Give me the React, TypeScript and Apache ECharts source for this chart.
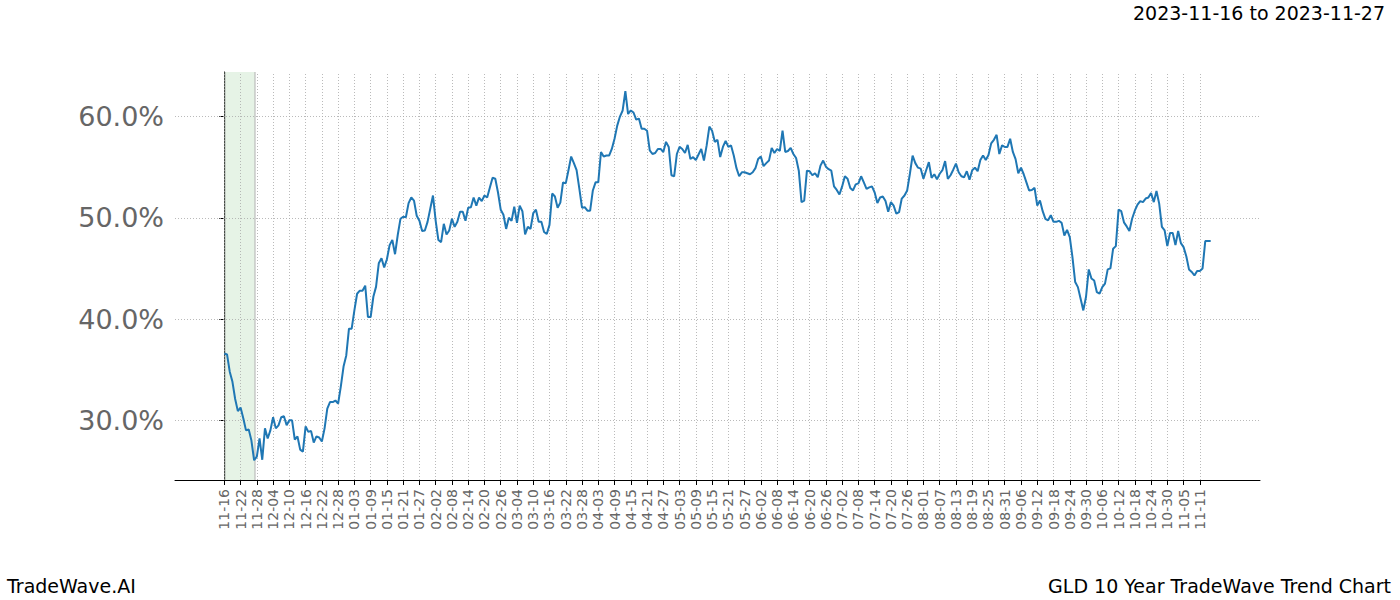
import React, { useEffect, useRef } from "react";
import * as echarts from "echarts";

// X-axis tick labels (one every 6 days, starting at day 0 = 2023-11-16)
const tickLabels: string[] = [
  "11-16", "11-22", "11-28", "12-04", "12-10", "12-16", "12-22", "12-28",
  "01-03", "01-09", "01-15", "01-21", "01-27", "02-02", "02-08", "02-14",
  "02-20", "02-26", "03-04", "03-10", "03-16", "03-22", "03-28", "04-03",
  "04-09", "04-15", "04-21", "04-27", "05-03", "05-09", "05-15", "05-21",
  "05-27", "06-02", "06-08", "06-14", "06-20", "06-26", "07-02", "07-08",
  "07-14", "07-20", "07-26", "08-01", "08-07", "08-13", "08-19", "08-25",
  "08-31", "09-06", "09-12", "09-18", "09-24", "09-30", "10-06", "10-12",
  "10-18", "10-24", "10-30", "11-05", "11-11",
];
const tickStepDays = 6;

// Y-axis tick values (percent)
const yTicks: number[] = [30, 40, 50, 60];

// Daily trend values (percent), day 0 = 2023-11-16
const trendValues: number[] = [
  36.6, 36.5, 34.8, 33.8, 32.1, 30.9, 31.25, 30.2, 29.0, 29.1,
  28.0, 26.05, 26.4, 28.2, 26.1, 29.2, 28.2, 29.0, 30.3, 29.2,
  29.5, 30.3, 30.4, 29.5, 30.0, 30.0, 28.1, 28.4, 27.1, 26.9,
  29.4, 28.85, 28.95, 27.8, 28.4, 28.3, 27.9, 29.2, 31.15, 31.8,
  31.8, 31.95, 31.65, 33.35, 35.3, 36.4, 39.05, 39.05, 40.85, 42.5,
  42.8, 42.8, 43.3, 40.2, 40.2, 42.2, 43.2, 45.5, 46.0, 45.1,
  45.9, 47.3, 47.8, 46.4, 48.3, 49.9, 50.1, 50.05, 51.45, 52.0,
  51.7, 50.2, 49.7, 48.7, 48.75, 49.6, 50.9, 52.2, 49.7, 47.8,
  47.6, 49.4, 48.35, 48.75, 49.9, 49.1, 49.6, 50.6, 50.6, 49.7,
  51.0, 51.05, 52.0, 51.2, 52.0, 51.65, 52.2, 52.0, 53.0, 53.95,
  53.85, 52.5, 50.8, 50.3, 48.9, 50.0, 49.7, 51.1, 49.5, 51.2,
  50.65, 48.35, 49.1, 48.9, 50.45, 50.8, 49.6, 49.6, 48.6, 48.4,
  49.3, 52.4, 52.1, 51.0, 51.5, 53.5, 53.4, 54.7, 56.05, 55.4,
  54.7, 52.9, 51.0, 51.05, 50.7, 50.7, 52.7, 53.5, 53.5, 56.5,
  56.05, 56.15, 56.15, 56.8, 57.8, 59.1, 60.0, 60.6, 62.5, 60.25,
  60.6, 60.4, 59.7, 59.8, 58.8, 58.8, 58.6, 56.65, 56.3, 56.4,
  56.8, 56.8, 56.5, 57.5, 57.0, 54.2, 54.1, 56.3, 57.0, 56.8,
  56.4, 57.2, 55.8, 56.0, 55.7, 56.25, 56.8, 55.65, 57.15, 59.0,
  58.6, 57.5, 57.7, 56.0, 57.0, 57.6, 57.0, 57.15, 56.15, 54.9,
  54.1, 54.5, 54.5, 54.4, 54.3, 54.5, 54.9, 55.8, 56.05, 55.1,
  55.4, 55.65, 56.9, 56.4, 56.8, 56.6, 58.6, 56.5, 56.6, 56.9,
  56.3, 55.9, 54.65, 51.55, 51.7, 54.65, 54.6, 54.2, 54.4, 54.0,
  55.15, 55.65, 55.05, 54.8, 54.65, 53.1, 52.75, 52.3, 53.1, 54.1,
  53.85, 52.95, 52.7, 53.3, 53.4, 54.1, 53.5, 52.85, 53.0, 53.1,
  52.5, 51.45, 52.0, 52.1, 51.65, 50.6, 51.55, 51.2, 50.4, 50.55,
  51.9, 52.2, 52.7, 54.35, 56.15, 55.4, 54.95, 54.85, 53.85, 54.7,
  55.5, 53.95, 54.3, 53.8, 54.35, 54.7, 55.6, 53.85, 54.2, 54.75,
  55.35, 54.5, 54.1, 54.0, 54.6, 53.75, 54.7, 54.95, 54.6, 55.7,
  56.15, 55.7, 56.2, 57.35, 57.7, 58.2, 56.3, 57.15, 57.0, 57.0,
  57.8, 56.5, 55.8, 54.4, 54.95, 54.3, 53.5, 52.7, 52.75, 52.95,
  51.2, 51.7, 50.65, 49.9, 49.75, 50.25, 49.6, 49.6, 49.7, 49.5,
  48.25, 48.8, 48.1, 46.1, 43.65, 43.15, 42.0, 40.85, 42.2, 44.9,
  44.0, 43.8, 42.65, 42.5, 43.15, 43.5, 44.9, 45.0, 46.95, 47.2,
  50.8, 50.65, 49.55, 49.15, 48.7, 49.9, 50.7, 51.3, 51.65, 51.55,
  51.9, 52.0, 52.45, 51.55, 52.65, 51.4, 49.1, 48.75, 47.2, 48.5,
  48.5, 47.3, 48.7, 47.5, 47.1, 46.2, 44.9, 44.65, 44.3, 44.75,
  44.75, 45.0, 47.7, 47.7, 47.7,
];

// Highlighted window (days from start)
const highlightStart = 0;
const highlightEnd = 11.2;

const titleText = "2023-11-16 to 2023-11-27";
const brandText = "TradeWave.AI";
const chartName = "GLD 10 Year TradeWave Trend Chart";

export default function App() {
  const ref = useRef<HTMLDivElement>(null);

  useEffect(() => {
    if (!ref.current) return;
    const chart = echarts.init(ref.current, null, { renderer: "svg" });
    const tickDays = tickLabels.map((_, i) => i * tickStepDays);
    const font = "DejaVu Sans";
    const lastDay = trendValues.length - 1;
    const pad = lastDay * 0.05;
    const gridStyle = { color: "#a8a8a8", width: 0.8, type: [1, 2] };

    chart.setOption({
      animation: false,
      backgroundColor: "#ffffff",
      textStyle: { fontFamily: font },
      grid: { left: 175, right: 140, top: 72, bottom: 120, containLabel: false },
      xAxis: {
        type: "value",
        min: -pad,
        max: lastDay + pad,
        axisLine: { show: true, onZero: false, lineStyle: { color: "#000", width: 1 } },
        axisTick: {
          show: true,
          customValues: tickDays,
          length: 5,
          lineStyle: { color: "#000", width: 1 },
        },
        axisLabel: {
          show: true,
          customValues: tickDays,
          rotate: 90,
          fontSize: 14,
          color: "#666",
          fontFamily: font,
          margin: 9,
          formatter: (v: number) => tickLabels[Math.round(v / tickStepDays)] ?? "",
        },
        splitLine: { show: false },
      },
      yAxis: {
        type: "value",
        min: 24.1,
        max: 64.4,
        axisLine: { show: true, lineStyle: { color: "#000", width: 1 } },
        axisTick: {
          show: true,
          customValues: yTicks,
          length: 5,
          lineStyle: { color: "#000", width: 1 },
        },
        axisLabel: {
          show: true,
          customValues: yTicks,
          fontSize: 27,
          color: "#666",
          fontFamily: font,
          margin: 11,
          formatter: (v: number) => `${v.toFixed(1)}%`,
        },
        splitLine: { show: false },
      },
      series: [
        {
          type: "line",
          name: "grid",
          data: [],
          silent: true,
          z: 1,
          markLine: {
            silent: true,
            symbol: "none",
            label: { show: false },
            lineStyle: gridStyle,
            data: [
              ...tickDays.map((d) => ({ xAxis: d })),
              ...yTicks.map((v) => ({ yAxis: v })),
            ],
          },
        },
        {
          type: "line",
          name: "shade",
          data: [],
          silent: true,
          z: 2,
          markArea: {
            silent: true,
            itemStyle: { color: "rgba(172,214,172,0.3)" },
            data: [[{ xAxis: highlightStart }, { xAxis: highlightEnd }]],
          },
          markLine: {
            silent: true,
            symbol: "none",
            label: { show: false },
            lineStyle: { color: "rgba(140,140,140,0.35)", width: 2, type: "solid" },
            data: [{ xAxis: highlightStart }, { xAxis: highlightEnd }],
          },
        },
        {
          type: "line",
          name: "trend",
          data: trendValues.map((v, i) => [i, v]),
          showSymbol: false,
          symbol: "none",
          lineStyle: { color: "#1f77b4", width: 2 },
          z: 5,
        },
      ],
      graphic: [
        {
          type: "text",
          right: 15,
          top: 3,
          style: { text: titleText, fontSize: 19, fill: "#000", fontFamily: font },
        },
        {
          type: "text",
          left: 7,
          top: 576,
          style: { text: brandText, fontSize: 19, fill: "#000", fontFamily: font },
        },
        {
          type: "text",
          right: 9,
          top: 576,
          style: { text: chartName, fontSize: 19, fill: "#000", fontFamily: font },
        },
      ],
    });

    return () => chart.dispose();
  }, []);

  return (
    <div
      ref={ref}
      style={{ position: "absolute", left: 0, top: 0, width: 1400, height: 600 }}
    />
  );
}
